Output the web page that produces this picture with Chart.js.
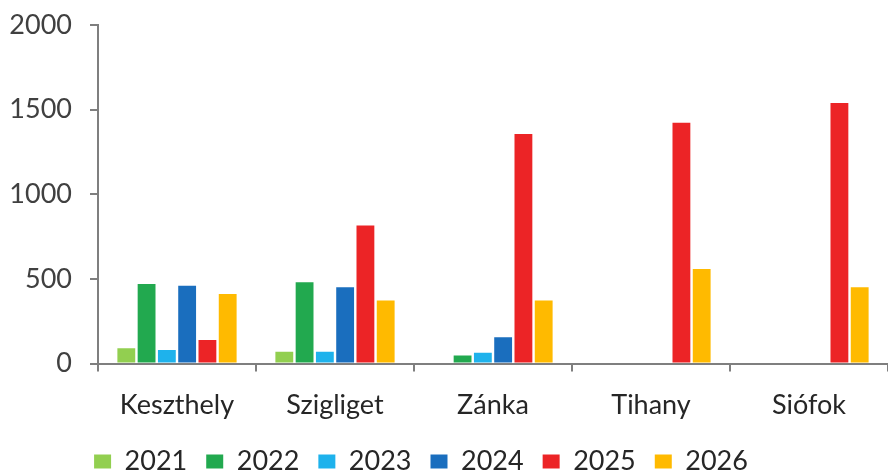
<!DOCTYPE html>
<html>
<head>
<meta charset="utf-8">
<script src="https://cdn.jsdelivr.net/npm/chart.js@4"></script>
<style>
html,body{margin:0;padding:0;background:#fff;overflow:hidden;}
#wrap{width:888px;height:474px;position:relative;}
</style>
</head>
<body>
<div id="wrap"><canvas id="c" width="888" height="474"></canvas></div>
<script>
const categories = ['Keszthely', 'Szigliget', 'Zánka', 'Tihany', 'Siófok'];
const seriesNames = ['2021', '2022', '2023', '2024', '2025', '2026'];
const v2021 = [90, 70, null, null, null];
const v2022 = [470, 480, 48, null, null];
const v2023 = [80, 70, 64, null, null];
const v2024 = [460, 451, 155, null, null];
const v2025 = [139, 815, 1356, 1423, 1540];
const v2026 = [411, 372, 372, 559, 451];
const yTicks = [0, 500, 1000, 1500, 2000];

const colors = ['#92CF50', '#22A94F', '#1EB2EC', '#1A6EBE', '#EC2426', '#FFBA00'];
const values = [v2021, v2022, v2023, v2024, v2025, v2026];

const FONT = 'Lato, "Open Sans", sans-serif';
Chart.defaults.font.family = FONT;
Chart.defaults.color = '#404040';

const legendShift = {
  id: 'legendShift',
  afterLayout(chart) {
    if (chart.legend) { chart.legend.left -= 23; chart.legend.right -= 23; }
  }
};

new Chart(document.getElementById('c'), {
  type: 'bar',
  data: {
    labels: categories,
    datasets: seriesNames.map((n, i) => ({
      label: n,
      data: values[i],
      backgroundColor: colors[i],
      borderWidth: 0,
      categoryPercentage: 0.77,
      barPercentage: 0.88
    }))
  },
  plugins: [legendShift],
  options: {
    responsive: false,
    animation: false,
    layout: { padding: { top: 25, right: 0, left: 0, bottom: -11 } },
    plugins: {
      legend: {
        position: 'bottom',
        labels: {
          boxWidth: 17, boxHeight: 14,
          font: { size: 27, family: FONT },
          color: '#262626',
          padding: 19
        }
      },
      tooltip: { enabled: false }
    },
    scales: {
      x: {
        afterFit: s => { s.height = s.height - 9; s.paddingLeft = 0; s.paddingRight = 0; },
        grid: { display: true, drawOnChartArea: false, drawTicks: true, tickLength: 8, color: '#7f7f7f', lineWidth: 2 },
        border: { display: true, color: '#7f7f7f', width: 2 },
        ticks: { font: { size: 27, family: FONT }, color: '#262626', padding: 17 }
      },
      y: {
        min: 0, max: 2000,
        afterBuildTicks: s => { s.ticks = yTicks.map(v => ({ value: v })); },
        afterFit: s => { s.width = 98; s.paddingTop = 0; s.paddingBottom = 0; },
        grid: { display: true, drawOnChartArea: false, drawTicks: true, tickLength: 8, color: '#7f7f7f', lineWidth: 2 },
        border: { display: true, color: '#7f7f7f', width: 2 },
        ticks: { font: { size: 27, family: FONT }, color: '#404040', padding: 18, callback: v => String(v) }
      }
    }
  }
});
</script>
</body>
</html>
